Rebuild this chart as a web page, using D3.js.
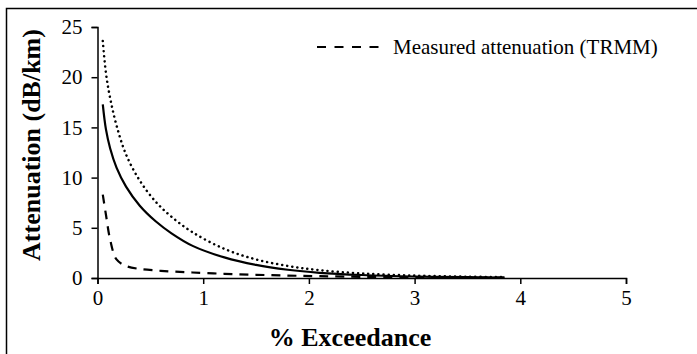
<!DOCTYPE html>
<html>
  <head>
    <meta charset="utf-8">
    <title>Attenuation vs % exceedance</title>
    <script src="https://d3js.org/d3.v7.min.js"></script>
    <style>
      body { margin: 0; background: #fff; }
      svg { display: block; font-family: "Liberation Serif", "Times New Roman", serif; }
    </style>
  </head>
  <body>
    <script>
      // values
      var exceedance = [0.05, 0.08, 0.12, 0.18, 0.27, 0.4, 0.55, 0.7, 0.9, 1.2, 1.5, 1.8, 2.1, 2.5, 3.0, 3.5, 3.85];
      var solidSeries = [17.3, 14.8, 12.9, 11.0, 9.1, 7.2, 5.65, 4.45, 3.2, 2.05, 1.3, 0.82, 0.52, 0.3, 0.15, 0.08, 0.05];
      var dottedSeries = [23.6, 20.4, 17.9, 15.2, 12.3, 9.7, 7.6, 6.1, 4.55, 2.9, 1.85, 1.2, 0.78, 0.45, 0.24, 0.13, 0.09];
      var measuredSeries = [8.3, 6.3, 3.8, 1.85, 1.2, 0.9, 0.75, 0.65, 0.55, 0.42, 0.32, 0.24, 0.18, 0.12, 0.07, 0.04, 0.03];
      var xTicks = [0, 1, 2, 3, 4, 5];
      var yTicks = [0, 5, 10, 15, 20, 25];
      var legendLabel = "Measured attenuation (TRMM)";

      var width = 697, height = 354;

      var svg = d3.select("body").append("svg")
        .attr("width", width)
        .attr("height", height);

      // outer frame (runs off the right and bottom edges)
      svg.append("rect")
        .attr("x", 6.5).attr("y", 8.5)
        .attr("width", 720).attr("height", 380)
        .attr("fill", "none")
        .attr("stroke", "#000")
        .attr("stroke-width", 1.5);

      var x = d3.scaleLinear().domain([0, 5]).range([97.5, 626]);
      var y = d3.scaleLinear().domain([0, 25]).range([278, 27]);

      // axes
      var xAxis = svg.append("g")
        .attr("transform", "translate(0," + y(0) + ")")
        .call(d3.axisBottom(x).tickValues(xTicks).tickSize(6).tickPadding(6).tickFormat(d3.format("d")));
      var yAxis = svg.append("g")
        .attr("transform", "translate(" + x(0) + ",0)")
        .call(d3.axisLeft(y).tickValues(yTicks).tickSize(6).tickPadding(9).tickFormat(d3.format("d")));

      [xAxis, yAxis].forEach(function(a) {
        a.attr("font-family", null);
        a.select(".domain").attr("stroke", "#000").attr("stroke-width", 1.5);
        a.selectAll(".tick line").attr("stroke", "#000").attr("stroke-width", 1.5);
        a.selectAll(".tick text")
          .attr("fill", "#000")
          .style("font-family", "'Liberation Serif', 'Times New Roman', serif")
          .style("font-size", "21px");
      });

      // lines
      var rows = exceedance.map(function(e, i) {
        return { x: e, solid: solidSeries[i], dotted: dottedSeries[i], measured: measuredSeries[i] };
      });

      function lineFor(key) {
        return d3.line()
          .x(function(d) { return x(d.x); })
          .y(function(d) { return y(d[key]); })
          .curve(d3.curveCatmullRom.alpha(0.5));
      }

      svg.append("path")
        .datum(rows)
        .attr("d", lineFor("dotted"))
        .attr("fill", "none")
        .attr("stroke", "#000")
        .attr("stroke-width", 2.5)
        .attr("stroke-linecap", "round")
        .attr("stroke-dasharray", "0.1 5");

      svg.append("path")
        .datum(rows)
        .attr("d", lineFor("solid"))
        .attr("fill", "none")
        .attr("stroke", "#000")
        .attr("stroke-width", 2.2);

      svg.append("path")
        .datum(rows)
        .attr("d", lineFor("measured"))
        .attr("fill", "none")
        .attr("stroke", "#000")
        .attr("stroke-width", 2.2)
        .attr("stroke-dasharray", "9 7");

      // legend
      var legend = svg.append("g").attr("transform", "translate(317,47)");
      legend.append("line")
        .attr("x1", 0).attr("x2", 62)
        .attr("y1", 0).attr("y2", 0)
        .attr("stroke", "#000")
        .attr("stroke-width", 2.2)
        .attr("stroke-dasharray", "9 8.5");
      legend.append("text")
        .attr("x", 76).attr("y", 7)
        .style("font-size", "21px")
        .text(legendLabel);

      // axis titles
      svg.append("text")
        .attr("x", 350).attr("y", 346)
        .attr("text-anchor", "middle")
        .style("font-size", "26px")
        .style("font-weight", "bold")
        .text("% Exceedance");

      svg.append("text")
        .attr("transform", "translate(40,145) rotate(-90)")
        .attr("text-anchor", "middle")
        .style("font-size", "26px")
        .style("font-weight", "bold")
        .text("Attenuation (dB/km)");
    </script>
  </body>
</html>
